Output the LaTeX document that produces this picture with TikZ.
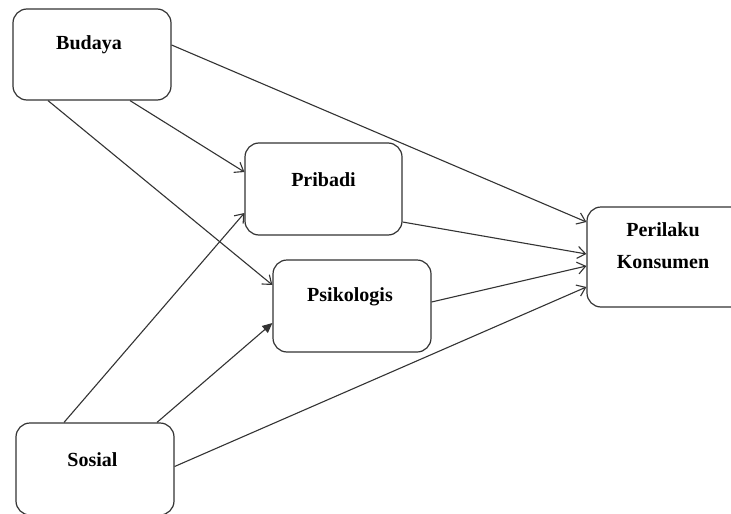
\documentclass[tikz,border=0pt]{standalone}
\usepackage{fontspec}
\setmainfont{Liberation Serif}
\usetikzlibrary{arrows.meta}
\definecolor{ln}{HTML}{333333}
\begin{document}
\begin{tikzpicture}[x=1pt,y=-1pt,
  box/.style={draw=ln, line width=1.2pt, rounded corners=14pt, rectangle, inner sep=0pt},
  lbl/.style={font=\fontsize{20}{26}\selectfont\bfseries, align=center, text=black},
  conn/.style={draw=ln, line width=1.1pt, -{Straight Barb[length=8pt,width=12pt,line width=1.1pt]}},
  connf/.style={draw=ln, line width=1.1pt, -{Triangle[length=10pt,width=9pt]}}]
\clip (0,0) rectangle (731,514);
\fill[white] (0,0) rectangle (731,514);
\node[box, minimum width=158pt, minimum height=91pt] (budaya) at (92,54.5) {};
\node[box, minimum width=157pt, minimum height=92pt] (pribadi) at (323.5,189) {};
\node[box, minimum width=158pt, minimum height=92pt] (psiko) at (352,306) {};
\node[box, minimum width=158pt, minimum height=92pt] (sosial) at (95,469) {};
\node[box, minimum width=180pt, minimum height=100pt] (perilaku) at (677,257) {};
\node[lbl] (tb) at ([xshift=-3pt,yshift=9.5pt]budaya.center) {Budaya};
\node[lbl] (tp) at ([yshift=9pt]pribadi.center) {Pribadi};
\node[lbl] (ts) at ([xshift=-2pt,yshift=9pt]psiko.center) {Psikologis};
\node[lbl] (to) at ([xshift=-2.5pt,yshift=9pt]sosial.center) {Sosial};
\node[lbl, font=\fontsize{20}{32}\selectfont\bfseries] (tk) at ([xshift=-14pt,yshift=11pt]perilaku.center) {Perilaku\\Konsumen};
\draw[conn] ([yshift=9.5pt]budaya.east) -- ([yshift=35pt]perilaku.west);
\draw[conn] ([xshift=38pt]budaya.south) -- ([yshift=17pt]pribadi.west);
\draw[conn] ([xshift=-44pt]budaya.south) -- ([yshift=21pt]psiko.west);
\draw[conn] ([yshift=-33pt]pribadi.east) -- ([yshift=3pt]perilaku.west);
\draw[conn] ([yshift=4pt]psiko.east) -- ([yshift=-9pt]perilaku.west);
\draw[conn] ([xshift=-31pt]sosial.north) -- ([yshift=-24pt]pribadi.west);
\draw[connf] ([xshift=62pt]sosial.north) -- ([yshift=-17pt]psiko.west);
\draw[conn] ([yshift=2.5pt]sosial.east) -- ([yshift=-30pt]perilaku.west);
\end{tikzpicture}
\end{document}
